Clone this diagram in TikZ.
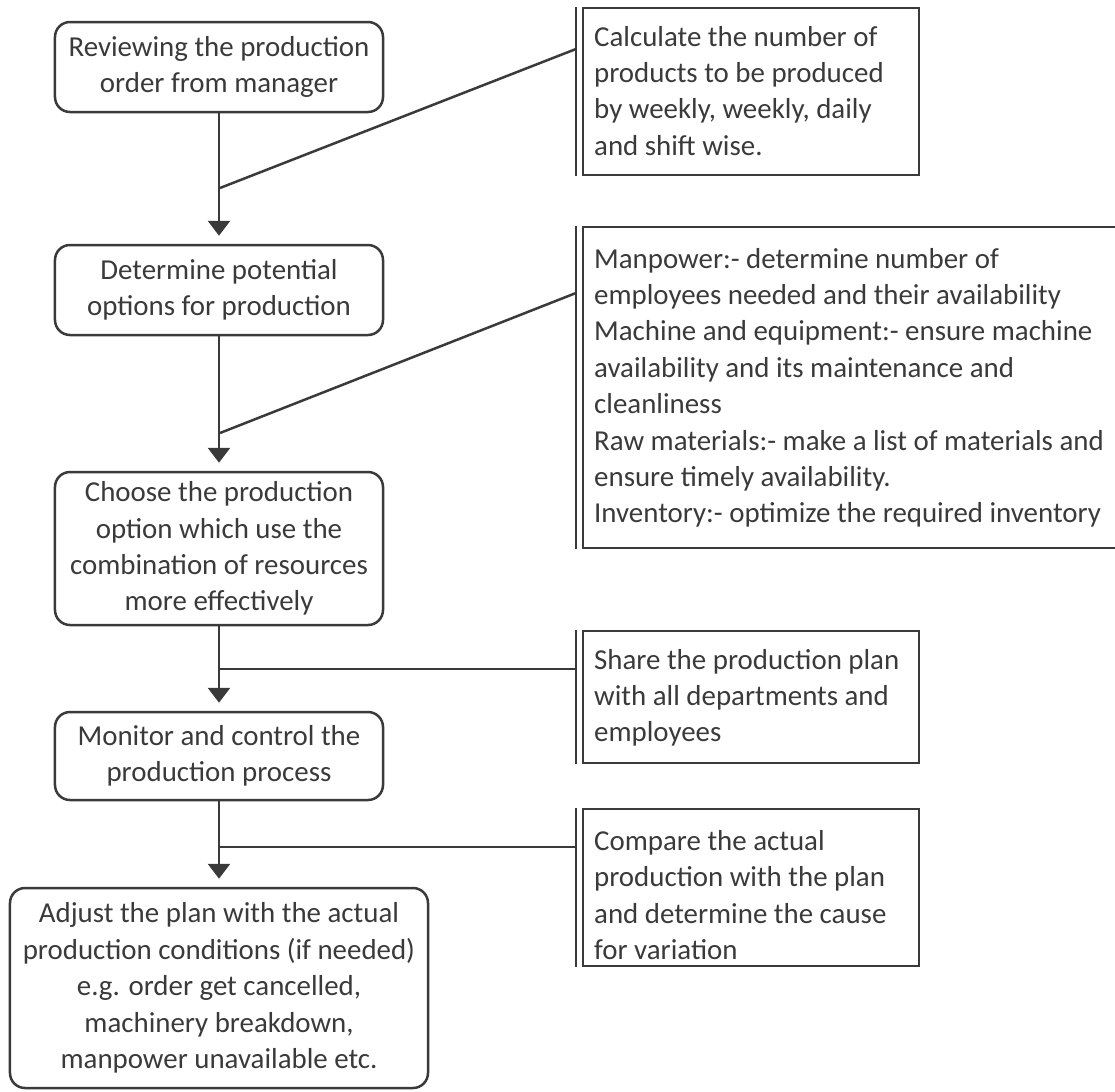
\documentclass[tikz,border=0pt]{standalone}
\usepackage{fontspec}
\setmainfont{Carlito}
\usetikzlibrary{arrows.meta,calc}
\definecolor{ink}{HTML}{3A3A3A}
\begin{document}
\begin{tikzpicture}[x=1bp,y=-1bp,
  every node/.style={font=\fontsize{29}{36.5}\selectfont, text=ink},
  stepbox/.style={draw=ink, line width=2.5bp, rounded corners=15bp,
    minimum width=328bp, align=center, inner sep=0pt},
  noteframe/.style={draw=ink, line width=2.4bp, inner sep=0pt, anchor=north west},
  notetext/.style={anchor=north west, align=left, inner sep=0pt},
  bar/.style={draw=ink, line width=2.4bp},
  flow/.style={draw=ink, line width=2.8bp, -{Triangle[width=22bp,length=15bp]}, shorten >=8bp},
  link/.style={draw=ink, line width=2.5bp}
]
\useasboundingbox (0,0) rectangle (1115,1092);

% process steps
\node[stepbox, minimum height=90bp]  (b1) at (219,67)  {Reviewing the production\\order from manager};
\node[stepbox, minimum height=90bp]  (b2) at (219,290) {Determine potential\\options for production};
\node[stepbox, minimum height=153bp] (b3) at (219,548.5) {Choose the production\\option which use the\\combination of resources\\more effectively};
\node[stepbox, minimum height=88bp]  (b4) at (219,756) {Monitor and control the\\production process};
\node[stepbox, minimum height=200bp, minimum width=418bp] (b5) at (219,988) {Adjust the plan with the actual\\production conditions (if needed)\\e.g. order get cancelled,\\machinery breakdown,\\manpower unavailable etc.};

\draw[flow] (b1) -- (b2);
\draw[flow] (b2) -- (b3);
\draw[flow] (b3) -- (b4);
\draw[flow] (b4) -- (b5);

% note frames
\node[noteframe, minimum width=336bp, minimum height=167bp] (r1) at (582,7) {};
\node[noteframe, minimum width=548bp, minimum height=321bp] (r2) at (582,226) {};
\node[noteframe, minimum width=336bp, minimum height=132bp] (r3) at (582,630) {};
\node[noteframe, minimum width=336bp, minimum height=157bp] (r4) at (582,808) {};

\foreach \r in {r1,r2,r3,r4}{
  \draw[bar] ([xshift=-6bp]\r.north west) -- ([xshift=-6bp]\r.south west);
}

% note texts
\node[notetext] (t1) at (594,26) {Calculate the number of\\products to be produced\\by weekly, weekly, daily\\and shift wise.};
\node[notetext] (t2) at (594,248) {Manpower:- determine number of\\employees needed and their availability\\Machine and equipment:- ensure machine\\availability and its maintenance and\\cleanliness\\Raw materials:- make a list of materials and\\ensure timely availability.\\Inventory:- optimize the required inventory};
\node[notetext] (t3) at (594,649) {Share the production plan\\with all departments and\\employees};
\node[notetext] (t4) at (594,830) {Compare the actual\\production with the plan\\and determine the cause\\for variation};

% callout links from the flow to the notes
\coordinate (a1) at (220,188);
\coordinate (a2) at (220,433);
\coordinate (a3) at (220,669);
\coordinate (a4) at (220,847);
\coordinate (k1) at (576,49);
\coordinate (k2) at (576,293);
\coordinate (k3) at (576,669);
\coordinate (k4) at (576,847);
\draw[link] (a1) -- (k1);
\draw[link] (a2) -- (k2);
\draw[link] (a3) -- (k3);
\draw[link] (a4) -- (k4);
\end{tikzpicture}
\end{document}
